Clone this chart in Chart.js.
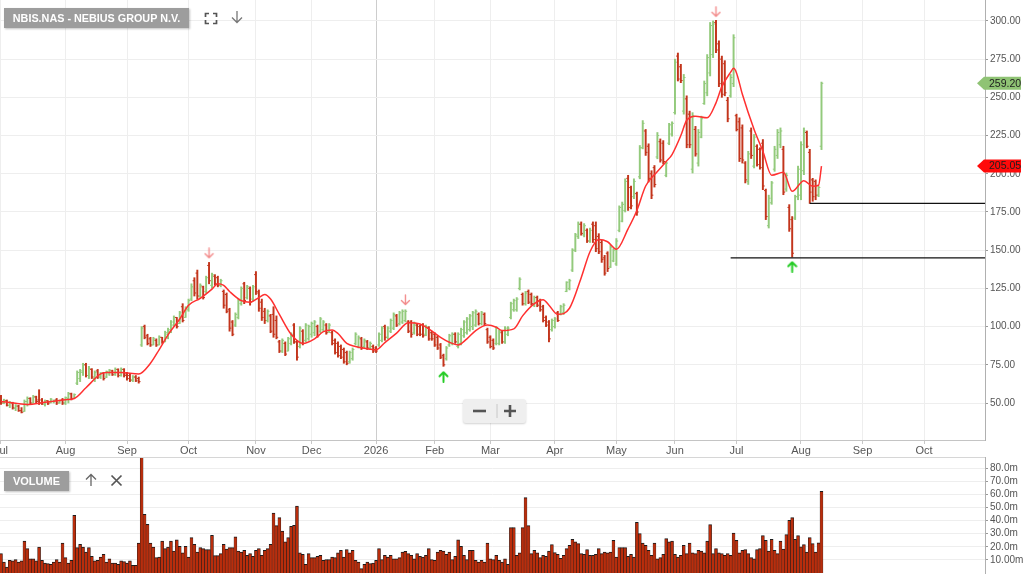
<!DOCTYPE html>
<html>
<head>
<meta charset="utf-8">
<script src="https://cdn.jsdelivr.net/npm/chart.js@4.4.1/dist/chart.umd.min.js"></script>
<style>
  body { margin: 0; background: #fff; font-family: "Liberation Sans", Arial, sans-serif; }
  #wrap { position: relative; width: 1024px; height: 575px; overflow: hidden; }
  #price { position: absolute; left: 0; top: 0; }
  #volume { position: absolute; left: 0; top: 457px; }
  .tag { position: absolute; background: #9d9d9d; color: #fff; font-weight: bold;
         text-align: center; box-shadow: 1px 1px 2px rgba(0,0,0,0.25); }
  #title { left: 4px; top: 8px; width: 185px; height: 20px; line-height: 20px; font-size: 10.8px; }
  #voltag { left: 4px; top: 471px; width: 65px; height: 20px; line-height: 20px; font-size: 11px; }
  #panelTop { position: absolute; left: 0; top: 457px; width: 985px; height: 1px; background: #d6d6d6; }
  svg { position: absolute; }
  #zoombox { position: absolute; left: 463px; top: 399px; width: 63px; height: 24px; background: #efefef;
             border-radius: 3px; box-shadow: 0 1px 2px rgba(0,0,0,0.18); }
</style>
</head>
<body>
<div id="wrap">
  <canvas id="price" width="1024" height="458"></canvas>
  <canvas id="volume" width="1024" height="118"></canvas>
  <div id="panelTop"></div>

  <div class="tag" id="title">NBIS.NAS - NEBIUS GROUP N.V.</div>
  <svg style="left:204px;top:12px" width="14" height="13"><path d="M1.5 5V1.5H5 M9 1.5h3.5V5 M12.5 8v3.5H9 M5 11.5H1.5V8" stroke="#555" stroke-width="1.7" fill="none"/></svg>
  <svg style="left:230px;top:10px" width="14" height="14"><path d="M7 1V12.5 M2 7.5L7 12.5L12 7.5" stroke="#777" stroke-width="1.3" fill="none"/></svg>

  <div class="tag" id="voltag">VOLUME</div>
  <svg style="left:84px;top:473px" width="14" height="14"><path d="M7 13V1.5 M2 6.5L7 1.5L12 6.5" stroke="#666" stroke-width="1.3" fill="none"/></svg>
  <svg style="left:110px;top:474px" width="13" height="13"><path d="M1.5 1.5L11.5 11.5 M11.5 1.5L1.5 11.5" stroke="#555" stroke-width="1.7" fill="none"/></svg>

  <div id="zoombox">
    <svg style="left:0;top:0" width="63" height="24">
      <path d="M10 12H23" stroke="#555" stroke-width="2.6"/>
      <path d="M34 5V19" stroke="#c8c8c8" stroke-width="1"/>
      <path d="M41 12H53 M47 6V18" stroke="#555" stroke-width="2.6"/>
    </svg>
  </div>
</div>

<script>
// month axis (trading-day index of the first session of each month)
const monthLabels = ['Jul','Aug','Sep','Oct','Nov','Dec','2026','Feb','Mar','Apr','May','Jun','Jul','Aug','Sep','Oct'];
const monthStarts = [0,22,43,64,87,106,128,148,167,189,210,230,251,273,294,315];

const priceTicks = [50,75,100,125,150,175,200,225,250,275,300];
const volumeTicks = [10,20,30,40,50,60,70,80];

const opens = [
  54,50,51.5,48.5,50,46.5,48,45,44.5,51,
  53,50,54,52,52,49,51.5,50.2,51,52,
  50,52,50,53,56,53,63,66,70,75,
  68,72,66,71,67,69.5,67,69,71,69,
  72,68,72,69,68,65,67,66,88,100,
  94,92,88,91,88,93,90,95,97,101,
  106,102,113,106,111,118,130,135,120,126,
  123,140,127,133,132,127,123,121,111,103,
  101,106,115,128,119,125,118,134,122,116,
  110,104,107,108,104,90,84,89,84,89,
  101,90,87,97,91,92,95,96,100,97,
  98,101,97,96,91,89,87,85,83,77,
  79,89,87,92,87,90,86,87,86,88,
  91,100,93,97,99,107,102,103,104,103,
  103,96,101,100,101,95,99,96,95,93,
  88,81,79,88,89,95,87,89,94,96,
  98,100,101,108,102,108,98,93,91,89,
  89,96,90,95,106,111,111,125,121,115,
  123,121,114,119,117,113,106,103,98,100,
  109,108,109,123,125,137,150,159,167,160,
  163,156,167,166,159,155,145,148,139,143,
  141,163,169,176,197,191,185,187,198,217,
  228,218,200,204,211,221,220,199,220,226,
  240,277,270,241,249,239,203,229,207,224,
  246,253,266,278,299,285,275,272,248,251,
  259,238,234,230,207,195,228,205,218,216,
  220,189,166,181,203,212,219,216,190,178,
  170,171,185,186,202,227,214,196,195,186,218
];
const highs = [
  55,52.5,52,51,50.5,49,48.5,47,52,54,
  53.5,55,54.5,58.7,53,52,51.5,53,52,53,
  52,53,54,57,56.5,56,71,72,76,76,
  74,72.5,71,72,70,70,71,72,71.5,73,
  72.4,73,72.5,70,69,68,68,67,100,101,
  95,93,93,92,94,93,97,99,104,107,
  106,110,115,113,118,128,132,137,128,126.5,
  133,142,135,134,133,131,124,122,112,104,
  109,118,126,129,127,126,127,136,124,118,
  112,111,108,113,107,91,92,90,93,96,
  102,91,100,98,102,101,103,104,101,106,
  104,102,102,97,92,90,88,86,84,84,
  86,96,94,93,92,91,90,88,87,96,
  100,101,100,105,109,108,110,111,111,104,
  104,103,102,101,102,101,100,97,96,94,
  89,82,87,95,96,96,96,99,104,106,
  108,110,111,109,110,109,99,94,92,100,
  98,97,100,100,116,118,119,132,122,123,
  124,122,120,120,118,114,107,104,105,106,
  110,114,115,129.4,131,151,161,168.5,168.5,167.4,
  164,164.5,168.5,168.5,160.8,156.5,146.6,149,153.3,151,
  157.6,179,181.5,196.7,199,192,196.7,188,218.5,234.8,
  229,219.6,202,205.4,227,222.8,221.7,208,233,234,
  275,279,271.6,265,251,241,240,231,229,237.7,
  260.7,278,299,300,300.4,287,277,274,250,265,
  291,239,236.6,232,208,214.7,230,225.7,219,217,
  222.4,190,186,195,218,229,230,218,200.5,179.8,
  172,186,205,221,230,228,216,197,196,192,260
];
const lows = [
  49,49.5,48,47,46,45,44.5,43.5,44.5,48,
  49,50,50,49,49,48,49,50,50,49,
  49.8,49,49,50,52,52.8,62,64,68,67,
  66,66,64,66,66,65,66.6,68,68,68,
  67,67.5,67,65,64,64,64,63,87,92,
  88,87,88,87,88,89,90,92,96,100,
  99,102,103,106,110,117,120,118,119,118,
  122,128,125,127,126,126,112,109,97,94,
  100,105,114,115,118,114,117,121,110,104,
  102,103,96,93,92,83,83,81,84,88,
  89,78,86,88,90,91,93,94,93,96,
  97,95,96,88,82,80,79,76,75,76,
  78,88,86,85,86,85,85,83,83,87,
  90,91,92,96,98,100,101,102,103,96,
  93,95,94,94,93,94,91,91,87,85,
  79,74,78,87,88,89,86,88,93,95,
  97,98,100,101,101,101,89,86,85,88,
  88,89,89,94,105,110,110,124,114,114,
  115,114,113,113,110,103,100,90,97,99,
  103.3,107.6,108,122.8,124,136,149,157.6,159.8,158.7,
  155,155,155,149,147.7,142,133.6,136,138.6,142.4,
  140,162,168.5,175,176,177,183.7,172.8,196.7,216.3,
  212,194.6,183.7,191.3,209.8,207.6,206.5,198,219,224.6,
  239,260.7,259.6,239,217,217,200.5,211.5,205,223.5,
  245.4,251,264,276,279.2,257,250,251,234,250,
  257,228,208,207,194,193,210,203.8,205,203,
  189.6,170,164.5,180,201.6,210,217,186.3,188.5,162.3,
  145.5,170,183,183,199.4,217,180.6,182,183,185,215.8
];
const closes = [
  50,51.8,48.5,50.5,46.8,48,45,44,51,53,
  50,54,51,50,50,51.5,49.5,52.5,51.8,50,
  51.5,50,53.5,56,53,55.5,70,71,75,68,
  72.5,67,70,67,69.5,66,70.5,71.5,68.5,72,
  68,72,68,66,65,67,64.5,64,99,93,
  89,88,92,88,93,90,96,98,103,106,
  100,109,104,112,117,126,122,120,127,119,
  132,130,134,128,127,130,114,110,99,95,
  108,117,125,117,126,116,126,123,112,106,
  104,110,97,95,93,84,91,82,92,95,
  90,80,99,89,101,100,102,103,94,105,
  103,96,101,89,83,81,80,77,76,83,
  85,95,93,86,91,86,89,84,84,95,
  99,93,99,104,108,101,109,110,110,97,
  95,102,95,95,94,100,92,92,88,86,
  80,75,86,94,95,90,95,98,103,105,
  107,109,110,102,109,102,90,87,86,99,
  97,90,99,99,115,117,118,131,115,122,
  116,115,119,114,111,104,101,92,104,105,
  104,113,114,129,130,150,160,167,161,166,
  156,163,157,151,149,144,135,138,152,150,
  156,178,180,195,178,179,195,175,217,233,
  214,197,186,193,225,209,208,207,232,233,
  273,262,261,263,219,219,238,213,227,236,
  259,276,297,298,281,259,252,253,236,263,
  289,229,210,209,196,213,212,224,206,204,
  192,172,184,194,216,227,228,188,199,164,
  148,185,203,219,228,218,188,185,186,191,259.2
];
// volume in millions
const volumes = [
  14.8,8.4,4.6,9.7,9.2,10.2,8.4,9.2,24.4,18.6,
  10.9,10.9,9.2,19.8,9.7,7.6,7.1,6.6,8.4,10.2,
  8.4,22.9,11.7,7.6,9.7,44,19.3,21.9,19.8,16,
  19.3,12.7,9.2,9.7,12.2,14.2,8.4,10.9,7.6,7.6,
  6.6,9.2,8.7,7.6,9.2,5.9,5.9,22.9,90,44.8,
  37.1,22.9,19.8,11.7,12.2,24.4,18.6,19.8,24.4,16.8,
  25.4,20.4,15.3,20.4,12.2,27,21.9,16,19.3,18.6,
  17.8,17.8,28.8,13.2,13.2,14.8,21.9,18.3,19.3,19.3,
  27.5,16.8,16,17.3,13.5,14.8,12.7,17.3,18.6,13.5,
  17.3,18.6,21.9,45.8,36.1,42.2,32,23.7,27,35.6,
  36.4,51.1,15.3,14.2,6.6,14.8,11.7,11.7,12.7,13.5,
  9.7,10.2,10.2,12.2,11.7,15.3,17.3,12.2,17.8,15.3,
  17.3,9.7,8.4,3.3,6.6,8.4,7.1,7.6,9.7,18.6,
  10.2,13.5,12.2,13.5,10.9,10.9,11.7,16,16.5,14.8,
  13.5,10.9,14.8,12.7,12.2,13.5,18.6,10.2,9.7,16,
  17.3,16.8,14.2,16,10.2,12.7,25.4,20.4,13.5,10.2,
  17.3,17.3,9.7,8.4,9.7,8.4,22.9,10.9,10.2,13.5,
  9.7,8.4,10.9,6.6,34.6,34.6,13.5,15.3,34.6,57.5,
  36.1,14.8,17.3,15.3,11.7,13.5,12.7,16.8,21.6,15.5,
  14.2,11.2,13.5,18.6,21.1,25.7,23.7,22.4,14.8,14.2,
  17.8,13.5,13.5,14.2,18.6,14.8,16,15.3,16,24.9,
  12.2,19.3,19.3,19.3,12.7,14.2,12.2,38.7,30,22.9,
  21.1,17.3,13.5,22.9,10.9,11.7,14.2,26.2,23.7,24.4,
  14.2,12.2,13.5,21.1,14.8,22.9,15.3,14.8,17.3,16.8,
  15.3,24.4,36.9,14.8,18.6,15.3,14.8,13.5,14.8,13.5,
  30.5,24.9,15.3,17.3,17.8,14.8,11.7,10.9,17.8,18.6,
  28.5,24.9,16.8,25.7,17.3,14.8,24.4,18.3,29.3,40.2,
  42.2,25.7,28.5,20,21.6,16,27,22.4,16,23,62.3
];

// moving average
const maIdx = [0,5,9,15,22,25,29,34,36,41,47,51,54,57,61,64,68,72,74,76,78,82,85,88,90,92,95,99,103,107,
  110,113,115,118,121,126,128,131,135,139,143,146,150,153,156,159,162,166,169,171,175,178,182,185,187,190,194,198,201,204,
  207,210,214,217,220,224,227,229,232,234,237,241,244,246,249,250,251,253,257,260,263,267,270,274,277,279,280];
const maVal = [51,49.8,49,50.5,52.2,53,60,69,70,70,69,76,85,94.6,105,114,118.5,124.5,128,127,123,117,116,119,121,118,108,95,89,92,
  96.7,97.8,95.5,89,87,85.2,84.8,89.5,95.7,102.5,101.7,98.5,93,89.8,88,92,97.4,101,99.6,97.4,98.5,107,115,117.6,114,108,112,132,149,157,
  155.5,150.6,164,176,192,201.5,208,212.6,225,235,237.7,236.6,246.4,257,266.5,269,266,252,229,214.7,199,201,188.5,195.5,191.8,192.5,205.05];

// horizontal levels drawn from a start day to the right edge
const levelFrom = [276, 249];
const levelValue = [180.6, 145];

// swing markers
const downArrowIdx = [71, 138, 244];
const downArrowVal = [148, 117.4, 306];
const upArrowIdx = [151, 270];
const upArrowVal = [67.2, 139.2];

// price tags on the right axis
const tagValues = [259.2, 205.05];
const tagColors = ['#8fc374', '#ff0a0a'];

const xMin = -0.34, xMax = 335.8;
const upColor = '#93ca7c', downColor = '#c3351c';
const barColor = i => closes[i] >= opens[i] ? upColor : downColor;

Chart.defaults.font.family = '"Liberation Sans", Arial, sans-serif';
Chart.defaults.animation = false;

function arrowImage(color, up, lw) {
  const c = document.createElement('canvas');
  c.width = 11; c.height = 12;
  const g = c.getContext('2d');
  g.strokeStyle = color; g.lineWidth = lw; g.lineCap = 'round'; g.lineJoin = 'round';
  g.beginPath();
  if (up) { g.moveTo(5.5, 11); g.lineTo(5.5, 1.5); g.moveTo(1.5, 5.5); g.lineTo(5.5, 1.5); g.lineTo(9.5, 5.5); }
  else { g.moveTo(5.5, 1); g.lineTo(5.5, 10.5); g.moveTo(1.5, 6.5); g.lineTo(5.5, 10.5); g.lineTo(9.5, 6.5); }
  g.stroke();
  return c;
}

// no label overhang padding: the plot runs edge to edge like the original
function noPad(s) { s.paddingTop = 0; s.paddingBottom = 0; s.paddingLeft = 0; s.paddingRight = 0; }

const tagPlugin = {
  id: 'priceTags',
  afterDraw(chart) {
    const ctx = chart.ctx, ys = chart.scales.y, right = chart.chartArea.right;
    tagValues.forEach((v, k) => {
      const py = ys.getPixelForValue(v);
      ctx.save();
      ctx.fillStyle = tagColors[k];
      ctx.beginPath();
      ctx.moveTo(right - 8, py);
      ctx.lineTo(right - 1, py - 6.5);
      ctx.lineTo(right + 36, py - 6.5);
      ctx.lineTo(right + 36, py + 6.5);
      ctx.lineTo(right - 1, py + 6.5);
      ctx.closePath();
      ctx.fill();
      ctx.fillStyle = '#1e1e1e';
      ctx.font = '10.5px "Liberation Sans", Arial, sans-serif';
      ctx.textBaseline = 'middle';
      ctx.fillText(v.toFixed(2), right + 4, py + 0.5);
      ctx.restore();
    });
  }
};

const idx = opens.map((_, i) => i);

new Chart(document.getElementById('price'), {
  type: 'bar',
  data: {
    datasets: [
      {
        type: 'line', order: 0, data: downArrowIdx.map((x, k) => ({ x, y: downArrowVal[k] })),
        showLine: false, pointStyle: arrowImage('#f28a8a', false, 1.4), pointRadius: 5
      },
      {
        type: 'line', order: 0, data: upArrowIdx.map((x, k) => ({ x, y: upArrowVal[k] })),
        showLine: false, pointStyle: arrowImage('#25cc25', true, 2), pointRadius: 5
      },
      {
        type: 'line', order: 1, data: maIdx.map((x, k) => ({ x, y: maVal[k] })),
        borderColor: '#ff3030', borderWidth: 1.5, pointRadius: 0, cubicInterpolationMode: 'monotone', fill: false
      },
      ...levelFrom.map((x, k) => ({
        type: 'line', order: 2, data: [{ x, y: levelValue[k] }, { x: xMax, y: levelValue[k] }],
        borderColor: '#111', borderWidth: 1.3, pointRadius: 0, fill: false
      })),
      {
        type: 'line', order: 3, data: idx.map(i => ({ x: i, y: opens[i] })), showLine: false,
        pointStyle: 'dash', pointRotation: 180, pointRadius: 1.8, pointBorderWidth: 1,
        pointBorderColor: idx.map(barColor), pointBackgroundColor: idx.map(barColor)
      },
      {
        type: 'line', order: 3, data: idx.map(i => ({ x: i, y: closes[i] })), showLine: false,
        pointStyle: 'dash', pointRadius: 1.8, pointBorderWidth: 1,
        pointBorderColor: idx.map(barColor), pointBackgroundColor: idx.map(barColor)
      },
      {
        type: 'bar', order: 4, data: idx.map(i => ({ x: i, y: [lows[i], highs[i]] })),
        backgroundColor: idx.map(barColor), borderWidth: 0, barThickness: 1.3, grouped: false
      }
    ]
  },
  options: {
    responsive: false,
    events: [],
    layout: { padding: 0, autoPadding: false },
    plugins: { legend: { display: false }, tooltip: { enabled: false } },
    scales: {
      x: {
        type: 'linear', min: xMin, max: xMax, offset: false,
        afterBuildTicks: s => { s.ticks = monthStarts.map(v => ({ value: v })); },
        afterFit: s => { s.height = 18; noPad(s); },
        ticks: {
          autoSkip: false, maxRotation: 0, color: '#555', font: { size: 11 }, padding: 0,
          callback: v => { const k = monthStarts.indexOf(v); return k >= 0 ? monthLabels[k] : ''; }
        },
        grid: {
          offset: false, tickLength: 4, tickColor: '#c8c8c8',
          color: c => (c.tick && monthLabels[monthStarts.indexOf(c.tick.value)] === '2026') ? '#cdcdcd' : '#eeeeee'
        },
        border: { color: '#c4c4c4' }
      },
      y: {
        position: 'right', min: 25.8, max: 313.7,
        afterBuildTicks: s => { s.ticks = priceTicks.map(v => ({ value: v })); },
        afterFit: s => { s.width = 39; noPad(s); },
        ticks: { autoSkip: false, color: '#555', font: { size: 10 }, padding: 2, callback: v => v.toFixed(2) },
        grid: { color: '#eeeeee', tickLength: 3, tickColor: '#999' },
        border: { color: '#b0b0b0' }
      }
    }
  },
  plugins: [tagPlugin]
});

new Chart(document.getElementById('volume'), {
  type: 'bar',
  data: {
    datasets: [{
      data: idx.map(i => ({ x: i, y: volumes[i] })),
      backgroundColor: '#b92d0c', borderColor: '#1c1c1c',
      borderWidth: { top: 1, left: 0.5, right: 0.5, bottom: 0 },
      barThickness: 2.93, grouped: false
    }]
  },
  options: {
    responsive: false,
    events: [],
    layout: { padding: { top: 0, bottom: 2, left: 0, right: 0 }, autoPadding: false },
    plugins: { legend: { display: false }, tooltip: { enabled: false } },
    scales: {
      x: { type: 'linear', min: xMin, max: xMax, offset: false, display: false, grid: { offset: false } },
      y: {
        position: 'right', min: 0, max: 88.5,
        afterBuildTicks: s => { s.ticks = volumeTicks.map(v => ({ value: v })); },
        afterFit: s => { s.width = 39; noPad(s); },
        ticks: { autoSkip: false, color: '#555', font: { size: 10 }, padding: 2,
                 callback: v => v === 10 ? '10.00m' : v.toFixed(1) + 'm' },
        grid: { color: '#eeeeee', tickLength: 3, tickColor: '#999' },
        border: { color: '#b0b0b0' }
      }
    }
  }
});
</script>
</body>
</html>
